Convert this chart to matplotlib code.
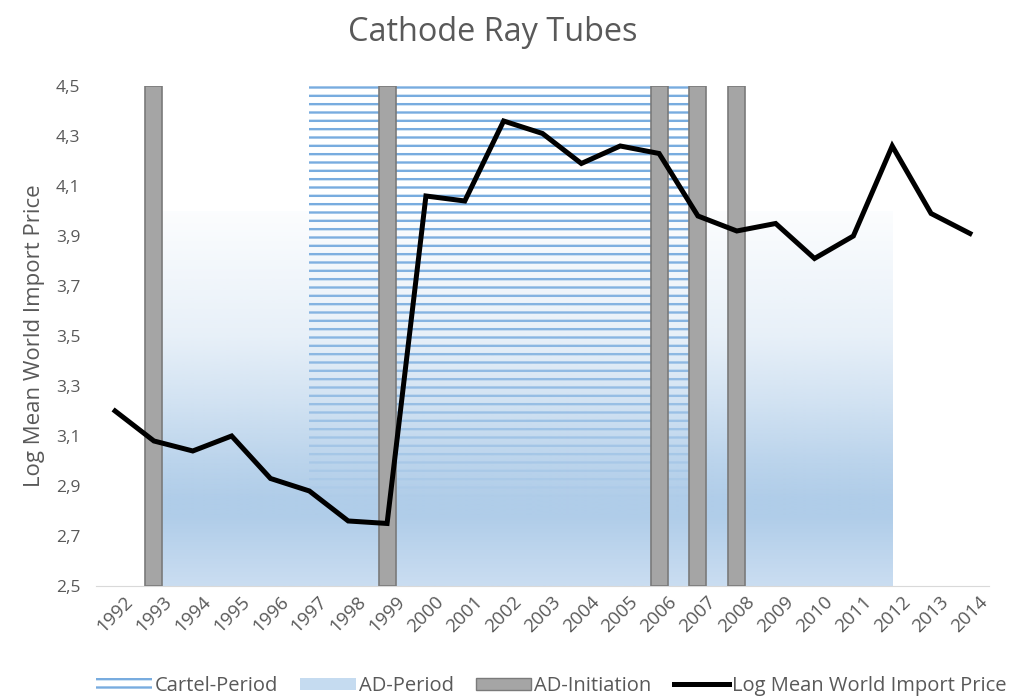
import matplotlib
matplotlib.use("Agg")
import matplotlib.pyplot as plt
import numpy as np
from matplotlib.patches import Patch
from matplotlib.lines import Line2D

years = [str(y) for y in range(1992, 2015)]
log_price = [3.20, 3.08, 3.04, 3.10, 2.93, 2.88, 2.76, 2.75, 4.06, 4.04, 4.36, 4.31,
             4.19, 4.26, 4.23, 3.98, 3.92, 3.95, 3.81, 3.90, 4.26, 3.99, 3.91]
ad_initiation_years = ["1993", "1999", "2006", "2007", "2008"]
cartel_period = ("1997", "2007")
cartel_level = 4.5
ad_period = ("1993", "2012")
ad_level = 4.0
y_min, y_max = 2.5, 4.5

plt.rcParams['font.family'] = ['Open Sans', 'DejaVu Sans']
plt.rcParams['hatch.linewidth'] = 1.7
grey = '#595959'

fig = plt.figure(figsize=(10.11, 6.98), dpi=100)
ax = fig.add_axes([0.0946, 0.1605, 0.884, 0.7163])

x = np.arange(len(years))
idx = {y: i for i, y in enumerate(years)}

# cartel period: hatched block
c0, c1 = idx[cartel_period[0]], idx[cartel_period[1]]
ax.fill_between([c0, c1], y_min, cartel_level, facecolor='none',
                edgecolor='#78acdf', hatch='--', linewidth=0, zorder=1)

# AD period: blue gradient, opaque at the bottom, fading out towards the top
a0, a1 = idx[ad_period[0]], idx[ad_period[1]]
rows = np.linspace(ad_level, y_min, 300)
grad = np.zeros((len(rows), 1, 4))
grad[:, 0, 0] = np.interp(rows, [2.5, 2.78], [202, 176]) / 255
grad[:, 0, 1] = np.interp(rows, [2.5, 2.78], [221, 205]) / 255
grad[:, 0, 2] = np.interp(rows, [2.5, 2.78], [241, 233]) / 255
grad[:, 0, 3] = np.interp(rows, [2.5, 2.85, 3.0, 3.25, 3.5, 4.0],
                          [1.0, 1.0, 0.86, 0.56, 0.3, 0.04])
ax.imshow(grad, extent=[a0, a1, y_min, ad_level], aspect='auto', zorder=2,
          interpolation='bilinear')

# AD initiation bars
ad_x = [idx[y] for y in ad_initiation_years]
ax.bar(ad_x, [y_max - y_min] * len(ad_x), bottom=y_min, width=0.44,
       color='#a5a5a5', edgecolor='#7a7a7a', linewidth=1.2, zorder=3)

ax.plot(x, log_price, color='black', linewidth=3.6, solid_joinstyle='miter', zorder=4)

ax.set_xlim(-0.5, len(years) - 0.5)
ax.set_ylim(y_min, y_max)
yt = np.round(np.arange(2.5, 4.51, 0.2), 1)
ax.set_yticks(yt)
ax.set_yticklabels([f"{v:.1f}".replace('.', ',') for v in yt], color=grey, fontsize=12.5)
ax.set_xticks(x)
ax.set_xticklabels(years, rotation=45, ha='center', va='top', color=grey, fontsize=13.5)
ax.tick_params(axis='y', length=0, pad=11)
ax.tick_params(axis='x', length=0, pad=5)
for s in ['top', 'right', 'left']:
    ax.spines[s].set_visible(False)
ax.spines['bottom'].set_color('#d9d9d9')

ax.set_ylabel('Log Mean World Import Price', color=grey, fontsize=16, labelpad=8)
fig.text(0.4876, 0.954, 'Cathode Ray Tubes', ha='center', va='center', color=grey, fontsize=23.4)

handles = [
    Patch(facecolor='none', edgecolor='#78acdf', hatch='--', linewidth=0),
    Patch(facecolor='#c5dbf0', edgecolor='none'),
    Patch(facecolor='#a5a5a5', edgecolor='#7a7a7a'),
    Line2D([], [], color='black', linewidth=3.6),
]
labels = ['Cartel-Period', 'AD-Period', 'AD-Initiation', 'Log Mean World Import Price']
leg = fig.legend(handles, labels, loc='center', bbox_to_anchor=(0.5455, 0.017), ncol=4,
                 frameon=False, fontsize=14.5, handlelength=2.75, handleheight=0.6,
                 handletextpad=0.15, columnspacing=1.1, labelcolor=grey,
                 borderpad=0, borderaxespad=0)

fig.savefig('out.png', dpi=100)
